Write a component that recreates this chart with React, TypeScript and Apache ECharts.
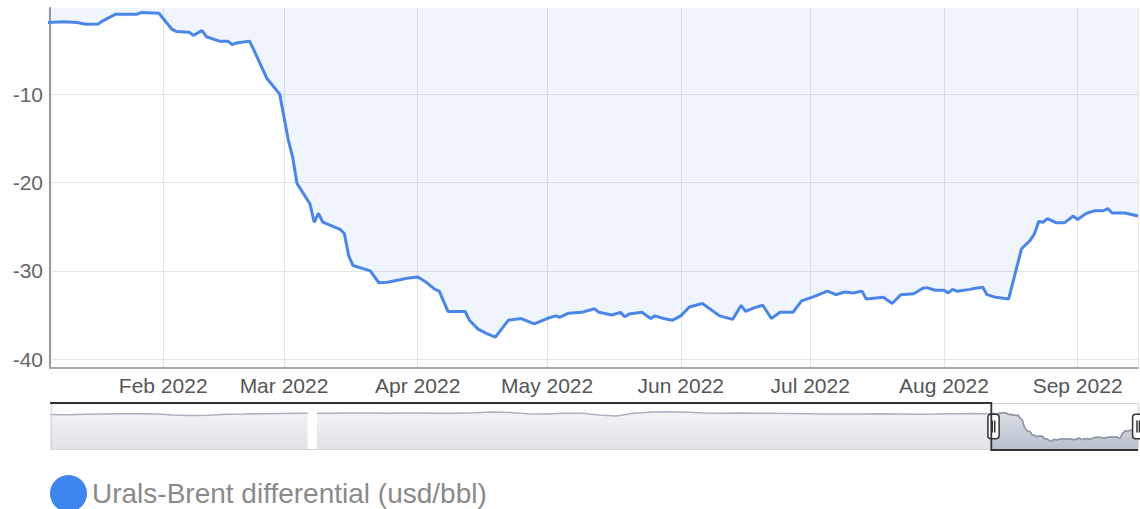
import React, { useEffect, useRef } from 'react';
import * as echarts from 'echarts';

const SERIES_NAME = 'Urals-Brent differential (usd/bbl)';

// Earlier history (read from the navigator shadow), monthly
const historyDates = [
  '2017-08-01', '2017-09-01', '2017-10-01', '2017-11-01', '2017-12-01',
  '2018-01-01', '2018-02-01', '2018-03-01', '2018-04-01', '2018-05-01', '2018-06-01',
  '2018-07-01', '2018-08-01', '2018-09-01', '2018-10-01', '2018-10-18', '2018-10-26', '2018-11-03', '2018-12-01',
  '2019-01-01', '2019-02-01', '2019-03-01', '2019-04-01', '2019-05-01', '2019-06-01',
  '2019-07-01', '2019-08-01', '2019-09-01', '2019-10-01', '2019-11-01', '2019-12-01',
  '2020-01-01', '2020-02-01', '2020-03-01', '2020-04-01', '2020-05-01', '2020-06-01',
  '2020-07-01', '2020-08-01', '2020-09-01', '2020-10-01', '2020-11-01', '2020-12-01',
  '2021-01-01', '2021-02-01', '2021-03-01', '2021-04-01', '2021-05-01', '2021-06-01',
  '2021-07-01', '2021-08-01', '2021-09-01', '2021-10-01', '2021-11-01', '2021-12-01',
];
const historyValues: (number | null)[] = [
  -3.0, -3.2, -2.6, -2.2, -2.0,
  -2.1, -2.4, -3.6, -4.3, -3.8, -2.7,
  -2.4, -2.0, -1.6, -1.4, -1.5, null, -1.3, -1.2,
  -1.1, -1.0, -1.2, -1.0, -0.9, -1.3,
  -1.4, -0.6, 0.3, -0.5, -2.0, -2.3,
  -1.5, -1.2, -3.5, -5.0, -1.5, 0.4,
  0.5, -0.2, -1.0, -1.2, -1.1, -1.3,
  -1.5, -1.6, -2.0, -2.2, -2.4, -2.3,
  -2.0, -2.2, -2.5, -2.4, -2.0, -1.6,
];

// 2022 detail
const dates2022 = [
  '2022-01-05', '2022-01-09', '2022-01-12', '2022-01-14', '2022-01-17', '2022-01-18', '2022-01-21',
  '2022-01-26', '2022-01-27', '2022-01-31', '2022-02-03', '2022-02-04', '2022-02-07', '2022-02-08',
  '2022-02-10', '2022-02-11', '2022-02-14', '2022-02-16', '2022-02-17', '2022-02-18', '2022-02-21',
  '2022-02-22', '2022-02-25', '2022-02-28', '2022-03-02', '2022-03-03', '2022-03-04', '2022-03-07',
  '2022-03-08', '2022-03-09', '2022-03-10', '2022-03-14', '2022-03-15', '2022-03-16', '2022-03-17',
  '2022-03-21', '2022-03-23', '2022-03-25', '2022-03-27', '2022-03-30', '2022-04-01', '2022-04-03',
  '2022-04-05', '2022-04-06', '2022-04-08', '2022-04-12', '2022-04-13', '2022-04-15', '2022-04-17',
  '2022-04-19', '2022-04-22', '2022-04-25', '2022-04-28', '2022-05-01', '2022-05-03', '2022-05-04',
  '2022-05-06', '2022-05-09', '2022-05-12', '2022-05-13', '2022-05-16', '2022-05-18', '2022-05-19',
  '2022-05-20', '2022-05-23', '2022-05-25', '2022-05-26', '2022-05-28', '2022-05-30', '2022-06-01',
  '2022-06-03', '2022-06-06', '2022-06-10', '2022-06-13', '2022-06-15', '2022-06-16', '2022-06-18',
  '2022-06-20', '2022-06-22', '2022-06-24', '2022-06-27', '2022-06-29', '2022-07-02', '2022-07-05',
  '2022-07-07', '2022-07-09', '2022-07-11', '2022-07-13', '2022-07-14', '2022-07-18', '2022-07-20',
  '2022-07-22', '2022-07-25', '2022-07-27', '2022-07-28', '2022-07-30', '2022-08-01', '2022-08-02',
  '2022-08-03', '2022-08-04', '2022-08-07', '2022-08-08', '2022-08-10', '2022-08-11', '2022-08-13',
  '2022-08-16', '2022-08-19', '2022-08-21', '2022-08-22', '2022-08-23', '2022-08-24', '2022-08-25',
  '2022-08-27', '2022-08-29', '2022-08-31', '2022-09-01', '2022-09-03', '2022-09-05', '2022-09-07',
  '2022-09-08', '2022-09-09', '2022-09-12', '2022-09-15',
];
const values2022 = [
  -1.9, -1.8, -1.9, -2.1, -2.05, -1.7, -0.95,
  -0.95, -0.75, -0.85, -2.65, -2.9, -3.0, -3.35,
  -2.8, -3.5, -4.0, -4.0, -4.4, -4.2, -4.0,
  -5.0, -8.2, -10.0, -15.2, -17.1, -20.1, -22.4,
  -24.5, -23.5, -24.5, -25.3, -25.8, -28.3, -29.4,
  -30.0, -31.35, -31.3, -31.1, -30.8, -30.7, -31.3,
  -32.1, -32.3, -34.6, -34.6, -35.6, -36.6, -37.1,
  -37.5, -35.6, -35.4, -36.0, -35.4, -35.1, -35.25,
  -34.8, -34.7, -34.3, -34.7, -35.0, -34.7, -35.2,
  -34.9, -34.7, -35.4, -35.1, -35.4, -35.6, -35.1,
  -34.1, -33.7, -35.1, -35.5, -33.9, -34.6, -34.2,
  -33.9, -35.4, -34.7, -34.7, -33.4, -32.9, -32.3,
  -32.7, -32.4, -32.5, -32.3, -33.2, -33.0, -33.7,
  -32.7, -32.6, -32.0, -31.9, -32.2, -32.2, -32.5,
  -32.1, -32.3, -32.1, -32.0, -31.85, -32.7, -33.0,
  -33.2, -27.5, -26.55, -25.8, -24.4, -24.5, -24.1,
  -24.55, -24.55, -23.8, -24.2, -23.5, -23.2, -23.2,
  -22.95, -23.45, -23.45, -23.8,
];

const monthNames = ['Jan', 'Feb', 'Mar', 'Apr', 'May', 'Jun', 'Jul', 'Aug', 'Sep', 'Oct', 'Nov', 'Dec'];

const toTime = (s: string) => {
  const [y, m, d] = s.split('-').map(Number);
  return new Date(y, m - 1, d).getTime();
};

const VIEW_START = new Date(2022, 0, 5, 18).getTime();

const NAV_TOP = 403;
const NAV_H = 47;
const LEFT = 50;
const RIGHT = 2;

export default function App() {
  const ref = useRef<HTMLDivElement>(null);

  useEffect(() => {
    if (!ref.current) return;
    const chart = echarts.init(ref.current, undefined, { renderer: 'svg' });

    const allDates = [...historyDates, ...dates2022];
    const allValues = [...historyValues, ...values2022];
    const points = allDates.map((d, i) => [toTime(d), allValues[i]]);
    const selPoints = points.filter((p) => (p[0] as number) >= toTime('2022-01-05'));
    const firstT = points[0][0] as number;
    const lastT = points[points.length - 1][0] as number;
    const nums = allValues.filter((v) => v != null) as number[];
    const vMin = Math.min(...nums);
    const vMax = Math.max(...nums);
    const pad = (vMax - vMin) * 0.3;

    const font = "'Liberation Sans', Arial, Helvetica, sans-serif";

    const option: any = {
      animation: false,
      backgroundColor: '#ffffff',
      textStyle: { fontFamily: font },
      grid: [
        { left: LEFT, right: RIGHT, top: 8, height: 360, outerBoundsMode: 'none', containLabel: false },
        { left: LEFT, right: RIGHT, top: NAV_TOP, height: NAV_H, outerBoundsMode: 'none', containLabel: false },
      ],
      legend: {
        data: [SERIES_NAME],
        left: 50,
        top: 475,
        padding: 0,
        icon: 'circle',
        itemWidth: 37,
        itemHeight: 37,
        itemStyle: { color: '#3f85ee', borderWidth: 0 },
        textStyle: { color: '#8a8a8a', fontSize: 28, fontFamily: font, padding: [0, 0, 14, 0] },
      },
      xAxis: [
        {
          type: 'time',
          gridIndex: 0,
          axisLine: { show: true, onZero: false, lineStyle: { color: '#a8a8a8', width: 2 } },
          axisTick: { show: false },
          splitLine: { show: true, lineStyle: { color: '#e4e4e4', width: 1 } },
          axisLabel: {
            color: '#555',
            fontSize: 21,
            margin: 7,
            fontFamily: font,
            formatter: (v: number) => {
              const d = new Date(v);
              return monthNames[d.getMonth()] + ' ' + d.getFullYear();
            },
          },
        },
        {
          type: 'time',
          gridIndex: 1,
          min: firstT,
          max: lastT,
          show: false,
        },
      ],
      yAxis: [
        {
          type: 'value',
          gridIndex: 0,
          min: -41,
          max: -0.25,
          axisLine: { show: true, onZero: false, lineStyle: { color: '#9a9a9a', width: 2 } },
          axisTick: { show: false },
          splitLine: { show: true, showMinLine: false, showMaxLine: false, lineStyle: { color: '#e4e4e4', width: 1 } },
          axisLabel: {
            color: '#666',
            fontSize: 21,
            margin: 7,
            fontFamily: font,
            showMinLabel: false,
            showMaxLabel: false,
            formatter: (v: number) => (Math.abs(v % 10) < 1e-9 ? String(v) : ''),
          },
        },
        {
          type: 'value',
          gridIndex: 1,
          min: vMin - pad,
          max: vMax + pad,
          show: false,
        },
      ],
      dataZoom: [
        {
          type: 'slider',
          xAxisIndex: 0,
          filterMode: 'none',
          startValue: VIEW_START,
          endValue: lastT,
          left: LEFT,
          right: RIGHT,
          top: NAV_TOP,
          height: NAV_H,
          showDataShadow: false,
          showDetail: false,
          brushSelect: false,
          moveHandleSize: 0,
          realtime: true,
          backgroundColor: 'rgba(0,0,0,0)',
          fillerColor: 'rgba(0,0,0,0)',
          borderColor: '#d4d4d4',
          borderRadius: 0,
          handleIcon:
            'path://M3,0H8A3,3,0,0,1,11,3V21A3,3,0,0,1,8,24H3A3,3,0,0,1,0,21V3A3,3,0,0,1,3,0ZM4.3,6V18M6.7,6V18',
          handleSize: '52%',
          handleStyle: { color: '#ffffff', borderColor: '#333', borderWidth: 1.5, shadowBlur: 0 },
          emphasis: { handleStyle: { color: '#ffffff', borderColor: '#333' } },
        },
      ],
      series: [
        {
          name: SERIES_NAME,
          type: 'line',
          xAxisIndex: 0,
          yAxisIndex: 0,
          data: points,
          symbol: 'none',
          showSymbol: false,
          clip: true,
          lineStyle: { color: '#4a86e8', width: 3 },
          itemStyle: { color: '#4a86e8' },
          areaStyle: { origin: 'end', color: 'rgba(74,134,232,0.12)' },
          emphasis: { disabled: true },
        },
        {
          name: 'navAll',
          type: 'line',
          xAxisIndex: 1,
          yAxisIndex: 1,
          data: points,
          symbol: 'none',
          silent: true,
          lineStyle: { color: '#aab0bc', width: 1.5 },
          areaStyle: {
            origin: 'start',
            color: new echarts.graphic.LinearGradient(0, 0, 0, 1, [
              { offset: 0, color: '#eceef2' },
              { offset: 1, color: '#d2d5dc' },
            ]),
          },
        },
        {
          name: 'navSel',
          type: 'line',
          xAxisIndex: 1,
          yAxisIndex: 1,
          data: selPoints,
          symbol: 'none',
          silent: true,
          lineStyle: { color: '#8e97aa', width: 1.5 },
          areaStyle: {
            origin: 'start',
            color: new echarts.graphic.LinearGradient(0, 0, 0, 1, [
              { offset: 0, color: '#cdd3de' },
              { offset: 1, color: '#a8b1c3' },
            ]),
          },
        },
      ],
    };

    chart.setOption(option);

    const xs = chart.convertToPixel({ xAxisIndex: 1 }, VIEW_START) as number;
    const xe = chart.convertToPixel({ xAxisIndex: 1 }, lastT) as number;
    chart.setOption({
      graphic: [
        {
          type: 'polyline',
          silent: true,
          z: 100,
          shape: {
            points: [
              [LEFT, NAV_TOP],
              [xs, NAV_TOP],
              [xs, NAV_TOP + NAV_H],
              [xe, NAV_TOP + NAV_H],
            ],
          },
          style: { stroke: '#333', lineWidth: 1.8, fill: null },
        },
      ],
    });

    return () => {
      chart.dispose();
    };
  }, []);

  return (
    <div
      ref={ref}
      style={{ position: 'fixed', left: 0, top: 0, width: 1140, height: 509, background: '#fff' }}
    />
  );
}
